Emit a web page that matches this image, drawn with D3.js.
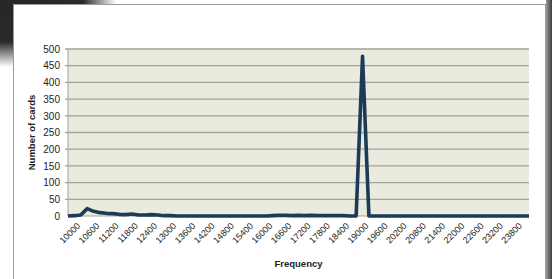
<!DOCTYPE html>
<html>
<head>
<meta charset="utf-8">
<script src="https://cdn.jsdelivr.net/npm/d3@7"></script>
<style>
  html, body { margin: 0; padding: 0; background: #fff; }
  svg { display: block; }
  text { font-family: "Liberation Sans", Arial, sans-serif; fill: #222; }
</style>
</head>
<body>
<div id="chart"></div>
<script>
// frequency bins (step 200)
var frequencies = [10000, 10200, 10400, 10600, 10800, 11000, 11200, 11400, 11600, 11800,
  12000, 12200, 12400, 12600, 12800, 13000, 13200, 13400, 13600, 13800,
  14000, 14200, 14400, 14600, 14800, 15000, 15200, 15400, 15600, 15800,
  16000, 16200, 16400, 16600, 16800, 17000, 17200, 17400, 17600, 17800,
  18000, 18200, 18400, 18600, 18800, 19000, 19200, 19400, 19600, 19800,
  20000, 20200, 20400, 20600, 20800, 21000, 21200, 21400, 21600, 21800,
  22000, 22200, 22400, 22600, 22800, 23000, 23200, 23400, 23600, 23800,
  24000, 24200, 24400];

// number of cards per bin
var cardCounts = [0, 1, 3, 22, 14, 10, 8, 7, 5, 4,
  6, 3, 3, 4, 3, 1, 1, 0, 0, 0,
  0, 0, 0, 0, 0, 0, 0, 0, 0, 0,
  0, 0, 1, 2, 2, 1, 2, 1, 2, 1,
  1, 1, 1, 1, 0, 0, 478, 0, 0, 0,
  0, 0, 0, 0, 0, 0, 0, 0, 0, 0,
  0, 0, 0, 0, 0, 0, 0, 0, 0, 0,
  0, 0, 0];

var yTicks = [0, 50, 100, 150, 200, 250, 300, 350, 400, 450, 500];

var width = 552, height = 279;
var plot = { left: 68, right: 529, top: 49, bottom: 216 };

var svg = d3.select('#chart').append('svg')
  .attr('width', width)
  .attr('height', height);

var defs = svg.append('defs');
var gTop = defs.append('linearGradient').attr('id', 'gTop');
gTop.append('stop').attr('offset', '0').attr('stop-color', '#262626');
gTop.append('stop').attr('offset', '0.15').attr('stop-color', '#2a2a2a');
gTop.append('stop').attr('offset', '0.21').attr('stop-color', '#ffffff');
var gLeft = defs.append('linearGradient').attr('id', 'gLeft')
  .attr('x1', 0).attr('y1', 0).attr('x2', 0).attr('y2', 1);
gLeft.append('stop').attr('offset', '0').attr('stop-color', '#262626');
gLeft.append('stop').attr('offset', '0.15').attr('stop-color', '#2a2a2a');
gLeft.append('stop').attr('offset', '0.24').attr('stop-color', '#ffffff');
var gRight = defs.append('linearGradient').attr('id', 'gRight');
gRight.append('stop').attr('offset', '0').attr('stop-color', '#9a9a9a');
gRight.append('stop').attr('offset', '1').attr('stop-color', '#3c3c3c');

// screenshot surroundings
svg.append('rect').attr('x', 0).attr('y', 0).attr('width', width).attr('height', 4)
  .attr('fill', 'url(#gTop)');
svg.append('rect').attr('x', 0).attr('y', 0).attr('width', 13).attr('height', height)
  .attr('fill', 'url(#gLeft)');
svg.append('rect').attr('x', 546).attr('y', 0).attr('width', 6).attr('height', height)
  .attr('fill', 'url(#gRight)');
svg.append('rect').attr('x', 13.5).attr('y', 4.5).attr('width', 532).attr('height', height)
  .attr('fill', '#fff').attr('stroke', '#9a9a9a');

// scales
var x = d3.scalePoint()
  .domain(frequencies)
  .range([plot.left, plot.right]);

var y = d3.scaleLinear()
  .domain([0, 500])
  .range([plot.bottom, plot.top]);

// plot area
svg.append('rect')
  .attr('x', plot.left).attr('y', plot.top)
  .attr('width', plot.right - plot.left).attr('height', plot.bottom - plot.top)
  .attr('fill', '#eaeadf');

// gridlines
svg.append('g')
  .selectAll('line')
  .data(yTicks.slice(1))
  .enter()
  .append('line')
  .attr('x1', plot.left - 3).attr('x2', plot.right)
  .attr('y1', function (d) { return y(d); })
  .attr('y2', function (d) { return y(d); })
  .attr('stroke', '#a3a39c')
  .attr('stroke-width', 1.3);

svg.append('line')
  .attr('x1', plot.left).attr('x2', plot.left)
  .attr('y1', plot.top).attr('y2', plot.bottom)
  .attr('stroke', '#a3a39c');
svg.append('line')
  .attr('x1', plot.left).attr('x2', plot.right)
  .attr('y1', plot.bottom).attr('y2', plot.bottom)
  .attr('stroke', '#a3a39c');

// y axis labels
var yAxis = d3.axisLeft(y).tickValues(yTicks).tickSize(0).tickPadding(8);
var yg = svg.append('g').attr('transform', 'translate(' + plot.left + ',0)').call(yAxis);
yg.select('.domain').remove();
yg.selectAll('text').style('font-size', '10px').attr('fill', '#222')
  .style('font-family', '"Liberation Sans", Arial, sans-serif');

// x axis labels, every third bin
var xAxis = d3.axisBottom(x)
  .tickValues(frequencies.filter(function (_, i) { return i % 3 === 0 && i < frequencies.length - 1; }))
  .tickSize(0);
var xg = svg.append('g').attr('transform', 'translate(0,' + plot.bottom + ')').call(xAxis);
xg.select('.domain').remove();
xg.selectAll('text')
  .style('font-size', '9px')
  .style('font-family', '"Liberation Sans", Arial, sans-serif')
  .attr('fill', '#222')
  .attr('text-anchor', 'end')
  .attr('dy', '0.35em')
  .attr('transform', 'translate(8,6) rotate(-45)');

// line
var line = d3.line()
  .x(function (d, i) { return x(frequencies[i]); })
  .y(function (d) { return y(d); });

svg.append('path')
  .datum(cardCounts)
  .attr('d', line)
  .attr('fill', 'none')
  .attr('stroke', '#1c3b56')
  .attr('stroke-width', 3.6)
  .attr('stroke-linejoin', 'round');

// axis titles
svg.append('text')
  .attr('transform', 'translate(35,' + ((plot.top + plot.bottom) / 2) + ') rotate(-90)')
  .attr('text-anchor', 'middle')
  .style('font-size', '9.5px')
  .style('font-weight', 'bold')
  .text('Number of cards');

svg.append('text')
  .attr('x', (plot.left + plot.right) / 2)
  .attr('y', 267)
  .attr('text-anchor', 'middle')
  .style('font-size', '9.5px')
  .style('font-weight', 'bold')
  .text('Frequency');
</script>
</body>
</html>
